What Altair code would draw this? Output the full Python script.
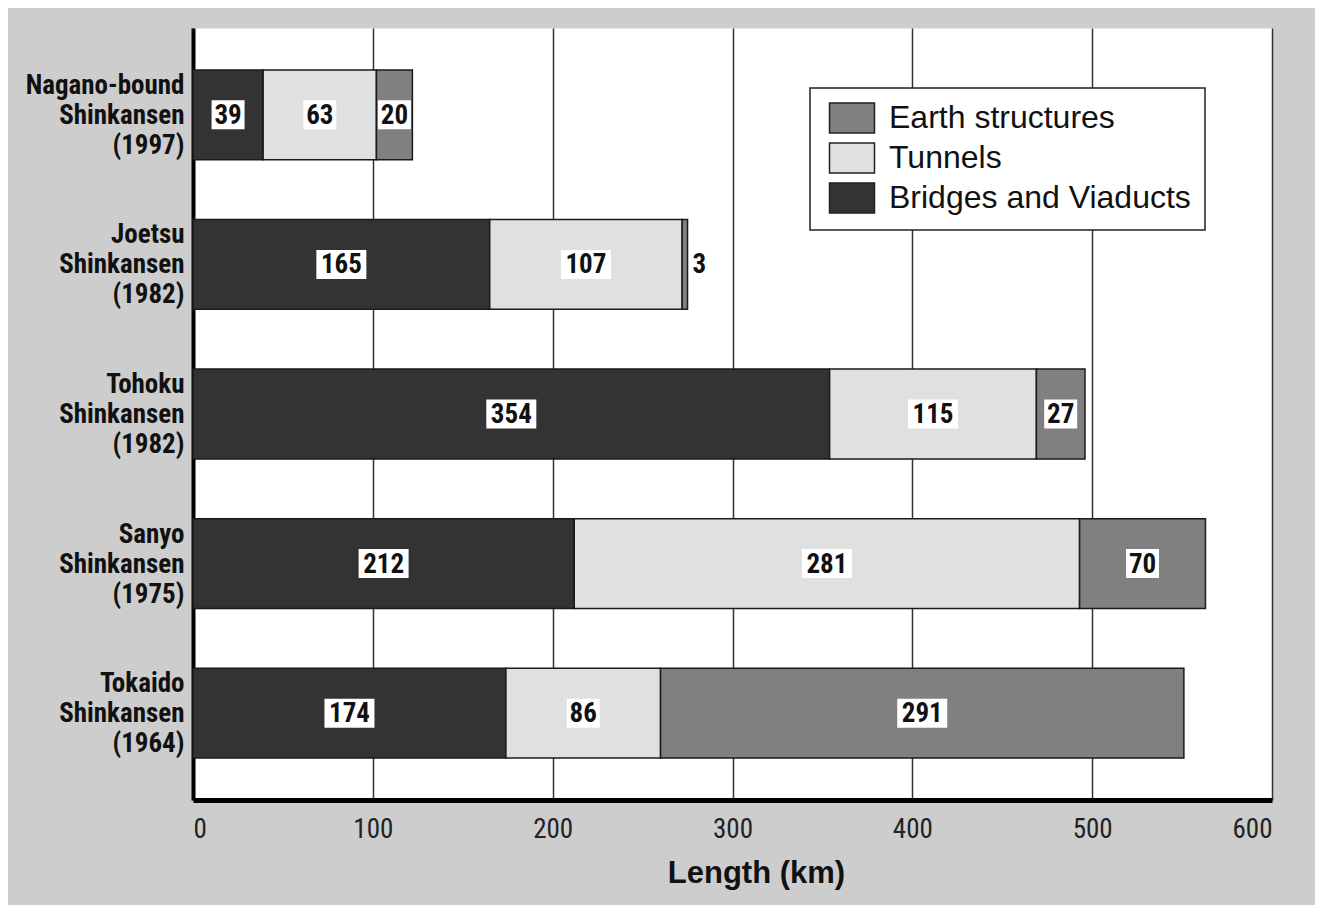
import altair as alt
import pandas as pd

lines = [
    "Nagano-bound\nShinkansen\n(1997)",
    "Joetsu\nShinkansen\n(1982)",
    "Tohoku\nShinkansen\n(1982)",
    "Sanyo\nShinkansen\n(1975)",
    "Tokaido\nShinkansen\n(1964)",
]
bridges = [39, 165, 354, 212, 174]
tunnels = [63, 107, 115, 281, 86]
earth = [20, 3, 27, 70, 291]

types = ["Bridges and Viaducts", "Tunnels", "Earth structures"]
legend_order = ["Earth structures", "Tunnels", "Bridges and Viaducts"]
colors = ["#808080", "#e0e0e0", "#333333"]
x_ticks = [0, 100, 200, 300, 400, 500, 600]

rows = []
for i, name in enumerate(lines):
    start = 0
    for t, vals in zip(types, [bridges, tunnels, earth]):
        v = vals[i]
        rows.append({
            "line": name, "type": t, "value": v,
            "start": start, "end": start + v, "mid": start + v / 2,
            "inside": v >= 10, "digits": len(str(v)),
        })
        start += v
df = pd.DataFrame(rows)

NARROW = "Liberation Sans Narrow, Roboto Condensed, DejaVu Sans Condensed, sans-serif"
REG = "Liberation Sans, Arial, sans-serif"

y_enc = alt.Y(
    "line:N", sort=lines, title=None,
    scale=alt.Scale(paddingInner=0.4, paddingOuter=0.28),
    axis=alt.Axis(
        labelExpr="split(datum.label, '\\n')",
        labelFont=NARROW, labelFontSize=27, labelFontWeight="bold",
        labelLineHeight=30, labelColor="#111", labelAlign="right",
        labelBaseline="middle", labelPadding=9, labelOffset=-29, ticks=False,
        domain=True, domainColor="#000", domainWidth=4, grid=False,
    ),
)

x_scale = alt.Scale(domain=[0, 600], nice=False)
x_axis = alt.Axis(
    values=x_ticks, grid=True, gridColor="#333", gridWidth=1.5,
    ticks=False, domain=True, domainColor="#000", domainWidth=5,
    labelFont=NARROW, labelFontSize=27, labelColor="#222", labelPadding=16,
    title="Length (km)", titleFont=REG, titleFontSize=31,
    titleFontWeight="bold", titleColor="#111", titlePadding=16, titleX=563,
)

base = alt.Chart(df)

bars = base.mark_bar(stroke="#1a1a1a", strokeWidth=1.5).encode(
    x=alt.X("start:Q", scale=x_scale, axis=x_axis),
    x2="end:Q",
    y=y_enc,
    color=alt.Color(
        "type:N",
        scale=alt.Scale(domain=legend_order, range=colors),
        legend=alt.Legend(
            title=None, orient="none", legendX=617, legendY=60,
            fillColor="white", strokeColor="#222", padding=14,
            symbolType="M-0.7,-1H2.3V1H-0.7Z", symbolSize=900,
            symbolStrokeColor="#222", symbolStrokeWidth=1.5,
            symbolOpacity=1,
            labelFont=REG, labelFontSize=32, labelColor="#111",
            labelOffset=33, rowPadding=4, labelLimit=400,
        ),
    ),
)

box2 = base.transform_filter("datum.inside && datum.digits == 2").mark_point(
    shape="M-1,-0.879H1V0.879H-1Z", size=1089, filled=True,
    color="white", opacity=1, strokeWidth=0,
).encode(x=alt.X("mid:Q", scale=x_scale), y=alt.Y("line:N", sort=lines))

box3 = base.transform_filter("datum.inside && datum.digits == 3").mark_point(
    shape="M-1,-0.58H1V0.58H-1Z", size=2500, filled=True,
    color="white", opacity=1, strokeWidth=0,
).encode(x=alt.X("mid:Q", scale=x_scale), y=alt.Y("line:N", sort=lines))

txt_in = base.transform_filter("datum.inside").mark_text(
    font=NARROW, fontSize=27, fontWeight="bold", color="#111",
    baseline="middle", align="center", dy=1,
).encode(x=alt.X("mid:Q", scale=x_scale), y=alt.Y("line:N", sort=lines), text="value:Q")

txt_out = base.transform_filter("!datum.inside").mark_text(
    font=NARROW, fontSize=27, fontWeight="bold", color="#111",
    baseline="middle", align="left", dx=5, dy=1,
).encode(x=alt.X("end:Q", scale=x_scale), y=alt.Y("line:N", sort=lines), text="value:Q")

chart = alt.layer(bars, box2, box3, txt_in, txt_out).properties(
    width=1079, height=772,
    autosize=alt.AutoSizeParams(type="none"),
    padding={"left": 185, "top": 20, "right": 43, "bottom": 105},
    background="#cdcdcd",
).configure_view(fill="white", stroke="transparent").configure_legend(strokeWidth=1.5)

chart.save("out.html", embed_options={"renderer": "svg", "actions": False})
